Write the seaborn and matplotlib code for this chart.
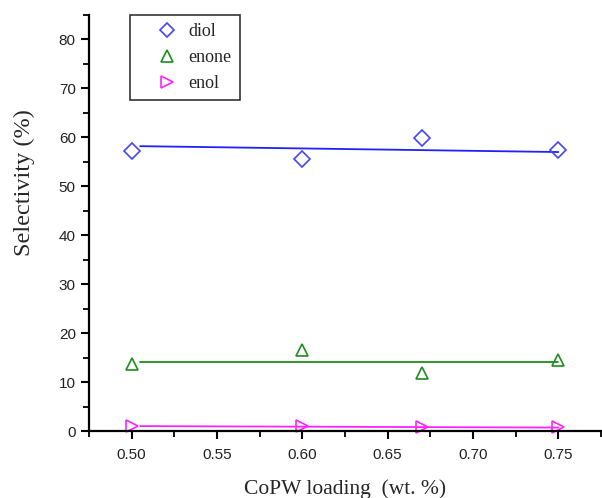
import matplotlib
matplotlib.use("Agg")
import matplotlib.pyplot as plt
import seaborn as sns
import pandas as pd
from matplotlib.ticker import MultipleLocator

loading = [0.50, 0.60, 0.67, 0.75]
diol = [57.2, 55.6, 59.8, 57.4]
enone = [13.7, 16.5, 11.8, 14.6]
enol = [1.0, 1.1, 0.9, 0.8]

fit_x = [0.505, 0.75]
diol_fit = [58.2, 57.0]
enone_fit = [14.1, 14.1]
enol_fit = [1.0, 0.7]

series = ["diol", "enone", "enol"]
line_colors = {"diol": "#2020ff", "enone": "#1e8c1e", "enol": "#ff22ff"}
colors = {"diol": "#4444ff", "enone": "#1e8c1e", "enol": "#ff22ff"}
markers = {"diol": "D", "enone": "^", "enol": ">"}
sizes = {"diol": 7.8, "enone": 9, "enol": 9}

sns.set_style("white")
fig = plt.figure(figsize=(6.02, 4.98), dpi=100)
ax = fig.add_axes([89/602, 67/498, 512/602, 416/498])

points = pd.DataFrame({"x": loading * 3,
                       "y": diol + enone + enol,
                       "series": [s for s in series for _ in loading]})
fits = pd.DataFrame({"x": fit_x * 3,
                     "y": diol_fit + enone_fit + enol_fit,
                     "series": [s for s in series for _ in fit_x]})

for s in series:
    d = fits[fits.series == s]
    sns.lineplot(data=d, x="x", y="y", ax=ax, color=line_colors[s], lw=1.3, legend=False)
for s in series:
    d = points[points.series == s]
    ax.plot(d.x, d.y, linestyle="none", marker=markers[s], ms=sizes[s],
            mfc="none", mec=colors[s], mew=1.2, label=s, clip_on=False)

ax.set_xlim(0.475, 0.775)
ax.set_ylim(0, 85)
ax.xaxis.set_minor_locator(MultipleLocator(0.025))
ax.yaxis.set_minor_locator(MultipleLocator(5))
ax.set_xticks([0.50, 0.55, 0.60, 0.65, 0.70, 0.75])
ax.set_xticklabels(["0.50", "0.55", "0.60", "0.65", "0.70", "0.75"])
ax.set_yticks(range(0, 90, 10))
ax.set_yticklabels([str(v) for v in range(0, 90, 10)])

for sp in ["top", "right"]:
    ax.spines[sp].set_visible(False)
for sp in ["left", "bottom"]:
    ax.spines[sp].set_color("black")
    ax.spines[sp].set_linewidth(1.6)

ax.tick_params(which="major", direction="out", length=6, width=1.5, colors="black",
               labelsize=11, left=True, bottom=True)
ax.tick_params(axis="x", which="major", pad=6)
ax.tick_params(which="minor", direction="out", length=4, width=1.3, colors="black",
               left=True, bottom=True)
for lab in ax.get_xticklabels() + ax.get_yticklabels():
    lab.set_fontfamily("Liberation Sans")
    lab.set_color("#222222")

ax.set_xlabel("CoPW loading  (wt. %)", fontfamily="Liberation Serif", fontsize=15.5)
ax.set_ylabel("Selectivity (%)", fontfamily="Liberation Serif", fontsize=17.5)
ax.xaxis.set_label_coords(0.5, (431 - 479) / 416)
ax.yaxis.set_label_coords((35 - 89) / 512, (431 - 183) / 416)

leg = ax.legend(loc="upper left", bbox_to_anchor=(41/512, 1.0), frameon=True,
                fancybox=False, edgecolor="black", borderpad=0.45, labelspacing=0.5,
                borderaxespad=0.0, handlelength=3.2, handletextpad=-0.4, markerscale=0.95,
                prop={"family": "Liberation Serif", "size": 13})
leg.get_frame().set_linewidth(1.2)

fig.savefig("out.png", dpi=100)
